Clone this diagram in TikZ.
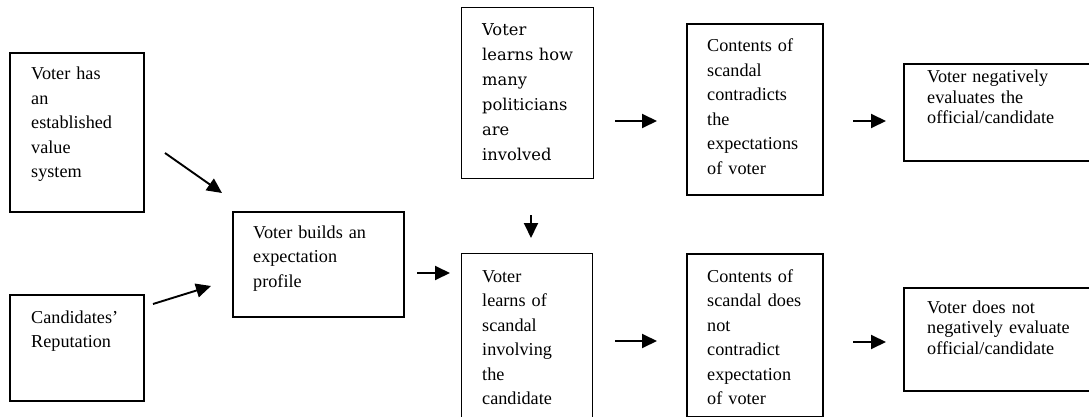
\documentclass[tikz,border=0pt]{standalone}
\usepackage{fontspec}
\setmainfont{Liberation Serif}
\newfontfamily\altserif{DejaVu Serif}
\usetikzlibrary{arrows.meta}
\tikzset{
  box/.style={draw, line width=1.8pt, rectangle, inner sep=0pt, anchor=north west},
  thinbox/.style={box, line width=1.3pt},
  txt/.style={anchor=base west, inner sep=0pt, align=left, text width=200pt,
    font=\fontsize{18.2}{24.5}\selectfont},
  txtb/.style={txt, font=\altserif\fontsize{16.3}{25}\selectfont},
  txtc/.style={txt, font=\fontsize{18.2}{20.5}\selectfont},
  arr/.style={line width=1.9pt, -{Triangle[length=15pt,width=14pt]}}
}
\begin{document}
\begin{tikzpicture}[x=1pt,y=-1pt]
\useasboundingbox (0,0) rectangle (1089,417);
\clip (0,0) rectangle (1089,417);
% boxes
\node[box, minimum width=134pt, minimum height=159pt] (b1) at (9,52) {};
\node[box, minimum width=134pt, minimum height=106pt] (b2) at (9,294) {};
\node[box, minimum width=171pt, minimum height=105pt] (b3) at (232,211) {};
\node[thinbox, minimum width=132pt, minimum height=171pt] (b4) at (461,7) {};
\node[thinbox, minimum width=131pt, minimum height=172pt] (b5) at (461,253) {};
\node[box, minimum width=136pt, minimum height=171pt] (b6) at (686,23) {};
\node[box, minimum width=136pt, minimum height=163pt] (b7) at (686,253) {};
\node[box, minimum width=197pt, minimum height=97pt] (b8) at (903,63) {};
\node[box, minimum width=197pt, minimum height=103pt] (b9) at (903,287) {};
% texts
\node[txt] (t1) at (31,80) {Voter has\\an\\established\\value\\system};
\node[txt] (t2) at (31,323) {Candidates’\\Reputation};
\node[txt] (t3) at (253,238) {Voter builds an\\expectation\\profile};
\node[txtb] (t4) at (482,36) {Voter\\learns how\\many\\politicians\\are\\involved};
\node[txt] (t5) at (482,282) {Voter\\learns of\\scandal\\involving\\the\\candidate};
\node[txt] (t6) at (707,52) {Contents of\\scandal\\contradicts\\the\\expectations\\of voter};
\node[txt] (t7) at (707,282) {Contents of\\scandal does\\not\\contradict\\expectation\\of voter};
\node[txtc] (t8) at (927,83) {Voter negatively\\evaluates the\\official/candidate};
\node[txtc] (t9) at (927,313) {Voter does not\\negatively evaluate\\official/candidate};
% arrow ends
\coordinate (a1s) at (165,153); \coordinate (a1e) at (222,193);
\coordinate (a2s) at (153,304); \coordinate (a2e) at (211,286);
\coordinate (a3s) at (417,273); \coordinate (a3e) at (450,273);
\coordinate (a4s) at (531,215); \coordinate (a4e) at (531,238);
\coordinate (a5s) at (615,121); \coordinate (a5e) at (657,121);
\coordinate (a6s) at (615,341); \coordinate (a6e) at (657,341);
\coordinate (a7s) at (853,121); \coordinate (a7e) at (886,121);
\coordinate (a8s) at (853,342); \coordinate (a8e) at (886,342);
\draw[arr] (a1s) -- (a1e);
\draw[arr] (a2s) -- (a2e);
\draw[arr] (a3s) -- (a3e);
\draw[arr] (a4s) -- (a4e);
\draw[arr] (a5s) -- (a5e);
\draw[arr] (a6s) -- (a6e);
\draw[arr] (a7s) -- (a7e);
\draw[arr] (a8s) -- (a8e);
\end{tikzpicture}
\end{document}
